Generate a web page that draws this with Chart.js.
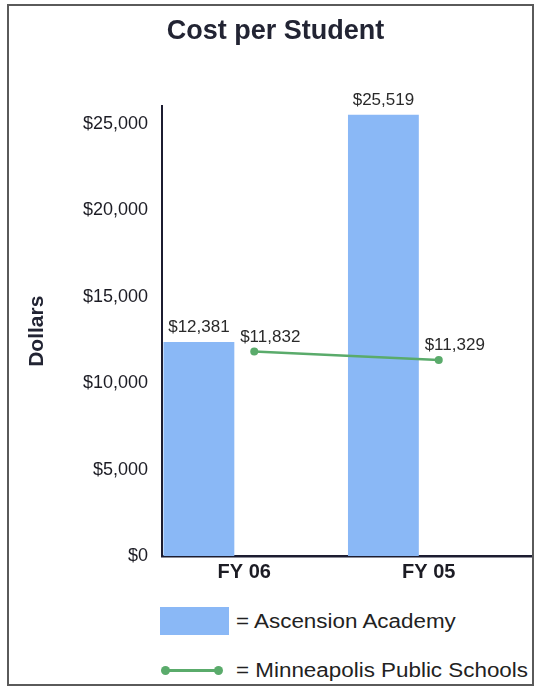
<!DOCTYPE html>
<html>
<head>
<meta charset="utf-8">
<script src="https://cdn.jsdelivr.net/npm/chart.js@4/dist/chart.umd.min.js"></script>
<style>
  html, body { margin: 0; padding: 0; background: #fff; }
  body { width: 535px; height: 687px; position: relative; overflow: hidden; font-family: "Liberation Sans", Arial, sans-serif; }
  #frame { position: absolute; left: 7px; top: 4px; width: 527px; height: 682px; box-sizing: border-box; border: 2px solid #5a5a5a; }
  #wrap { position: absolute; left: 0; top: 0; width: 535px; height: 600px; }
  .lg { position: absolute; }
  .lg-text { position: absolute; left: 236px; font-size: 20px; color: #222; line-height: 22px; white-space: nowrap; transform: scaleX(1.12); transform-origin: left center; }
</style>
</head>
<body>
<div id="frame"></div>
<div id="wrap"><canvas id="costChart" width="535" height="600"></canvas></div>

<!-- legend -->
<div class="lg" style="left:160px; top:607px; width:69px; height:28px; background:#8ab8f6;"></div>
<div class="lg-text" style="top:610px;">= Ascension Academy</div>
<div class="lg" style="left:165px; top:669px; width:53px; height:3px; background:#5aab6b;"></div>
<div class="lg" style="left:161px; top:666px; width:9px; height:9px; border-radius:50%; background:#5aab6b;"></div>
<div class="lg" style="left:214px; top:666px; width:9px; height:9px; border-radius:50%; background:#5aab6b;"></div>
<div class="lg-text" style="top:659px;">= Minneapolis Public Schools</div>

<script>
const years = ['FY 06', 'FY 05'];
const ascensionCost = [12381, 25519];
const mpsCost = [11832, 11329];
const yTicks = [0, 5000, 10000, 15000, 20000, 25000];

const money = v => '$' + Number(v).toLocaleString('en-US');

// labels above bars and line points
const valueLabels = {
    id: 'valueLabels',
    afterDatasetsDraw(chart) {
        const ctx = chart.ctx;
        ctx.save();
        ctx.font = '17px "Liberation Sans", Arial, sans-serif';
        ctx.fillStyle = '#2a2a2a';
        ctx.textBaseline = 'bottom';
        ctx.textAlign = 'center';
        chart.data.datasets.forEach((ds, i) => {
            if (!ds.showValues) return;
            chart.getDatasetMeta(i).data.forEach((el, j) => {
                if (ds.data[j] == null) return;
                if (ds.type === 'line')
                    ctx.fillText(money(ds.data[j]), el.x + 16, el.y - 6);
                else
                    ctx.fillText(money(ds.data[j]), el.x, el.y - 6);
            });
        });
        ctx.restore();
    }
};

new Chart(document.getElementById('costChart'), {
    data: {
        labels: years,
        datasets: [
            {
                type: 'line',
                label: 'Minneapolis Public Schools',
                data: mpsCost,
                borderColor: '#5aab6b',
                backgroundColor: '#5aab6b',
                borderWidth: 2.5,
                pointRadius: 4,
                pointBackgroundColor: '#5aab6b',
                pointBorderWidth: 0,
                tension: 0,
                order: 0,
                showValues: true
            },
            {
                type: 'bar',
                label: 'Ascension Academy',
                data: ascensionCost,
                backgroundColor: '#8ab8f6',
                categoryPercentage: 1.2,
                barPercentage: 0.64,
                order: 1,
                showValues: true
            },
            // empty slot so the bars sit left of the category centre like the original
            {
                type: 'bar',
                label: '',
                data: [null, null],
                categoryPercentage: 1.2,
                barPercentage: 0.64,
                order: 2
            }
        ]
    },
    options: {
        responsive: false,
        animation: false,
        devicePixelRatio: 1,
        layout: { padding: { top: 8, left: 16, right: 0, bottom: 8 } },
        plugins: {
            legend: { display: false },
            tooltip: { enabled: false },
            title: {
                display: true,
                text: 'Cost per Student',
                color: '#222433',
                font: { family: '"Liberation Sans", Arial, sans-serif', size: 27, weight: 'bold' },
                padding: { top: 7, bottom: 59 }
            }
        },
        scales: {
            x: {
                grid: { display: false, drawTicks: false },
                border: { display: true, color: '#1c1c30', width: 2.5 },
                ticks: {
                    color: '#1c1c24',
                    padding: 4,
                    labelOffset: -10,
                    font: { family: '"Liberation Sans", Arial, sans-serif', size: 20, weight: 'bold' }
                },
                afterFit(scale) { scale.height = 36; }
            },
            y: {
                min: 0,
                max: 26000,
                grid: { display: false, drawTicks: false },
                border: { display: true, color: '#1c1c30', width: 2 },
                afterBuildTicks(scale) { scale.ticks = yTicks.map(v => ({ value: v })); },
                ticks: {
                    color: '#1c1c24',
                    padding: 14,
                    font: { family: '"Liberation Sans", Arial, sans-serif', size: 18 },
                    callback: v => money(v)
                },
                title: {
                    display: true,
                    text: 'Dollars',
                    color: '#222433',
                    padding: { top: 9, bottom: 0 },
                    font: { family: '"Liberation Sans", Arial, sans-serif', size: 21, weight: 'bold' }
                },
                afterFit(scale) { scale.width = 146; }
            }
        }
    },
    plugins: [valueLabels]
});
</script>
</body>
</html>
